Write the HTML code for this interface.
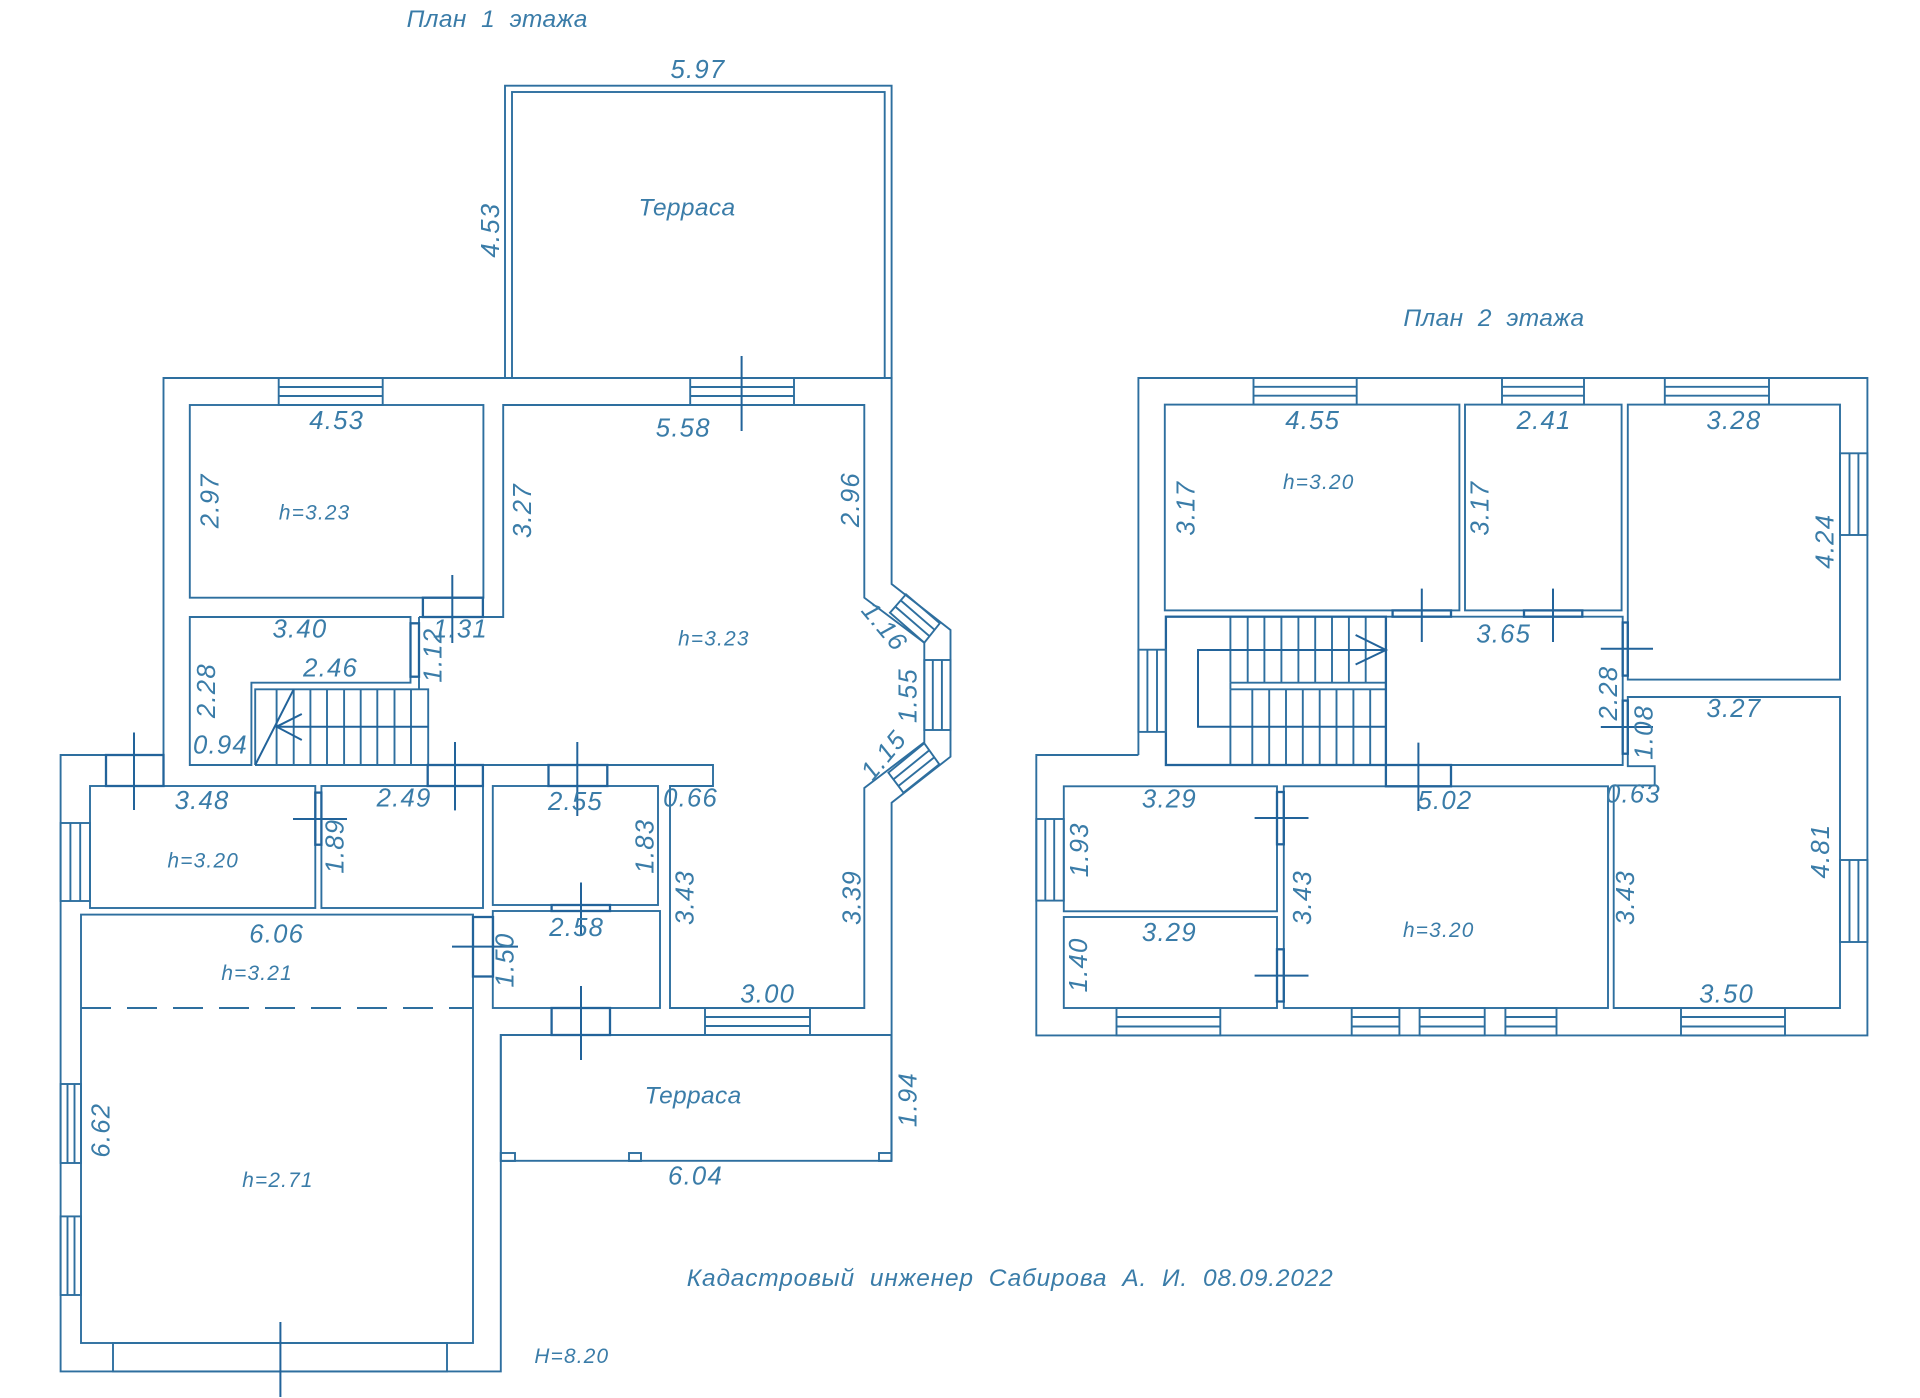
<!DOCTYPE html>
<html lang="ru">
<head>
<meta charset="utf-8">
<title>План этажей</title>
<style>
html,body{margin:0;padding:0;background:#fff}
svg{display:block}
.l{fill:none;stroke:#2e6f9f;stroke-width:1.9}
.d{fill:none;stroke:#22639a;stroke-width:2.3}
.c{fill:none;stroke:#22639a;stroke-width:2}
text{font-family:"Liberation Sans","Noto Sans CJK JP",sans-serif;font-style:italic;fill:#3a7ca8;text-anchor:middle;dominant-baseline:central}
.n{font-size:21px;letter-spacing:1px}
.s{font-size:17px;letter-spacing:1px}
.t{font-size:20px;letter-spacing:.3px}
.k{font-size:20px;letter-spacing:.67px}
</style>
</head>
<body>
<svg xmlns="http://www.w3.org/2000/svg" width="1920" height="1398" viewBox="0 0 1920 1398">
<rect width="1920" height="1398" fill="#fff"/>

<!-- PLAN 1 outer -->
<g class="l">
<path d="M163.5 786V378H891.6V584L950.5 630V756.7L891.6 802.7V1161"/>
<path d="M163.5 755H60.6V1371.4H500.8V1035H891.4"/>
<rect x="505" y="85.7" width="386.6" height="292.3"/>
<rect x="512" y="92" width="372.7" height="286"/>
<rect x="500.8" y="1035" width="390.6" height="125.8"/>
<rect x="500.8" y="1153" width="14.2" height="8"/>
<rect x="629" y="1153" width="12" height="8"/>
<rect x="879" y="1153" width="12.4" height="8"/>
<!-- rooms -->
<rect x="189.8" y="405" width="293.6" height="192.7"/>
<path d="M419 617H503.2V405H864.3V597.7L924.3 642.7V742.3L864.3 788V1008H670V786H713V765H255"/>
<path d="M251.4 765H189.8V617H410.5V682.7H251.4Z"/>
<path d="M419 617V689.3"/>
<rect x="90" y="786" width="225.3" height="122"/>
<rect x="321.4" y="786" width="161.6" height="122"/>
<rect x="492.8" y="786" width="165.2" height="119"/>
<rect x="492.8" y="911" width="167.2" height="97"/>
<rect x="81" y="914.6" width="392" height="428.4"/>
<path d="M81 1008H473" stroke-dasharray="30 16"/>
<!-- stairs -->
<path d="M255.2 765V689.3H428.2V765"/>
<path d="M276.6 689.3V765M293.7 689.3V765M310.4 689.3V765M327 689.3V765M344.1 689.3V765M360.7 689.3V765M377.3 689.3V765M394.5 689.3V765M411 689.3V765"/>
</g>
<g class="c">
<path d="M255.2 765L293.7 689.3"/>
<path d="M276.6 726.7H428.2"/>
<path d="M301.8 714L276.6 726.7L301.8 740"/>
</g>
<!-- windows plan 1 -->
<g class="l">
<rect x="278.7" y="378" width="104" height="27"/><path d="M278.7 387H382.7M278.7 396H382.7"/>
<rect x="690.2" y="378" width="103.8" height="27"/><path d="M690.2 387H794M690.2 396H794"/>
<rect x="924.3" y="660" width="26.2" height="70"/><path d="M932.8 660V730M941.9 660V730"/>
<path d="M906 594.3L939.8 623.3L924.3 642.7L890 612.7Z"/>
<path d="M900.7 600.4L934.6 629.8M895.3 606.6L929.5 636.2"/>
<path d="M924.3 743.3L939.3 764.3L903.4 792.7L888.4 772.7Z"/>
<path d="M929.3 750.3L893.4 779.4M934.3 757.3L898.4 786"/>
<rect x="60.6" y="823" width="29.4" height="78"/><path d="M70.4 823V901M80.2 823V901"/>
<rect x="60.6" y="1084" width="20.4" height="79"/><path d="M67.5 1084V1163M74.5 1084V1163"/>
<rect x="60.6" y="1216.4" width="20.4" height="78.6"/><path d="M67.5 1216.4V1295M74.5 1216.4V1295"/>
<rect x="705" y="1008" width="105" height="27"/><path d="M705 1017H810M705 1026H810"/>
<rect x="113" y="1343" width="334" height="28.4"/>
</g>
<!-- doors plan 1 -->
<g class="d">
<rect x="422.9" y="597.7" width="60" height="19.3"/>
<rect x="410.5" y="623.3" width="8.5" height="53.4"/>
<rect x="427.7" y="765" width="55.2" height="21"/>
<rect x="548.5" y="765" width="58.8" height="21"/>
<rect x="106" y="755" width="57.5" height="31"/>
<rect x="315.3" y="792.6" width="6.1" height="52.1"/>
<rect x="551.6" y="905" width="58.4" height="6"/>
<rect x="473" y="917" width="20" height="59.5"/>
<rect x="551.6" y="1008" width="58.4" height="27"/>
</g>
<g class="c">
<path d="M741.6 356V431"/>
<path d="M452.3 575V643"/>
<path d="M455 742V810.4"/>
<path d="M577.3 742V816"/>
<path d="M134 732.5V810"/>
<path d="M293 819H347"/>
<path d="M581 882.5V936"/>
<path d="M452 946.6H518"/>
<path d="M581 986V1060"/>
<path d="M280.4 1322V1397"/>
</g>

<!-- PLAN 2 -->
<g class="l">
<path d="M1138.4 755V378H1867.4V1035.4H1036.3V755H1138.4"/>
<rect x="1164.8" y="404.6" width="294.6" height="205.8"/>
<rect x="1465" y="404.6" width="156.6" height="205.8"/>
<rect x="1627.8" y="404.6" width="212.2" height="275"/>
<path d="M1627.8 766.2V697H1840V1008H1613.7V785.4H1654.7V766.2Z"/>
<rect x="1283.8" y="786.3" width="324.2" height="221.7"/>
<rect x="1063.8" y="786.3" width="213.2" height="125"/>
<rect x="1063.8" y="917" width="213.2" height="91"/>
<path d="M1385.9 616.7H1622.7V765H1385.9"/>
<!-- stair lines -->
<path d="M1230.4 616.7V682.7M1247.7 616.7V682.7M1264.4 616.7V682.7M1281.4 616.7V682.7M1298.4 616.7V682.7M1315.2 616.7V682.7M1332 616.7V682.7M1348.9 616.7V682.7M1365.7 616.7V682.7"/>
<path d="M1230.4 689.3V765M1252.3 689.3V765M1269.2 689.3V765M1286 689.3V765M1302.8 689.3V765M1319.7 689.3V765M1336.5 689.3V765M1353.4 689.3V765M1370.2 689.3V765"/>
<path d="M1230.4 682.7H1385.9M1230.4 689.3H1385.9M1230.4 682.7V689.3"/>
</g>
<g class="d">
<rect x="1165.9" y="616.7" width="220" height="148.3"/>
<rect x="1392.6" y="610.4" width="58.4" height="6.3"/>
<rect x="1524" y="610.4" width="58.3" height="6.3"/>
<rect x="1622.7" y="622.5" width="5.1" height="53.1"/>
<rect x="1622.7" y="700.6" width="5.1" height="53.1"/>
<rect x="1385.9" y="765" width="65.1" height="21.3"/>
<rect x="1277" y="792" width="6.8" height="52.3"/>
<rect x="1277" y="949.3" width="6.8" height="52.2"/>
</g>
<g class="c">
<path d="M1385.9 650H1198V726.7H1385.9"/>
<path d="M1355.6 635L1385.9 650L1355.6 664.5"/>
<path d="M1421.8 588.6V642"/>
<path d="M1553 588.6V642"/>
<path d="M1600.8 648.8H1653"/>
<path d="M1600.8 727H1653"/>
<path d="M1418.4 742.6V811"/>
<path d="M1254.6 818H1308.5"/>
<path d="M1254.6 975.6H1308.5"/>
</g>
<g class="l">
<rect x="1253.5" y="378" width="103.2" height="26.6"/><path d="M1253.5 386.8H1356.7M1253.5 395.7H1356.7"/>
<rect x="1502" y="378" width="82" height="26.6"/><path d="M1502 386.8H1584M1502 395.7H1584"/>
<rect x="1664.8" y="378" width="104.2" height="26.6"/><path d="M1664.8 386.8H1769M1664.8 395.7H1769"/>
<rect x="1840" y="453.3" width="27.4" height="81.7"/><path d="M1849.5 453.3V535M1858.4 453.3V535"/>
<rect x="1840" y="860" width="27.4" height="82"/><path d="M1849.5 860V942M1858.4 860V942"/>
<rect x="1138.4" y="649.7" width="27.5" height="82.2"/><path d="M1147.4 649.7V731.9M1157 649.7V731.9"/>
<rect x="1036.3" y="819" width="27.5" height="81.6"/><path d="M1045.3 819V900.6M1054.2 819V900.6"/>
<rect x="1116.5" y="1008" width="103.8" height="27.4"/><path d="M1116.5 1017H1220.3M1116.5 1026.5H1220.3"/>
<rect x="1351.7" y="1008" width="47.7" height="27.4"/><path d="M1351.7 1017H1399.4M1351.7 1026.5H1399.4"/>
<rect x="1419.6" y="1008" width="65.1" height="27.4"/><path d="M1419.6 1017H1484.7M1419.6 1026.5H1484.7"/>
<rect x="1505.4" y="1008" width="51.1" height="27.4"/><path d="M1505.4 1017H1556.5M1505.4 1026.5H1556.5"/>
<rect x="1681" y="1008" width="104" height="27.4"/><path d="M1681 1017H1785M1681 1026.5H1785"/>
</g>

<!-- TEXT in 1568-wide coordinates -->
<g transform="scale(1.2245)">
<text class="t" x="406" y="16" style="word-spacing:6px">План 1 этажа</text>
<text class="t" x="1220" y="260" style="word-spacing:6px">План 2 этажа</text>
<text class="t" x="561" y="170">Терраса</text>
<text class="t" x="566" y="895">Терраса</text>
<text class="k" x="825" y="1044" style="word-spacing:6px">Кадастровый инженер Сабирова А. И. 08.09.2022</text>
<text class="s" x="467" y="1108">H=8.20</text>
<text class="s" x="257" y="419">h=3.23</text>
<text class="s" x="583" y="522">h=3.23</text>
<text class="s" x="166" y="703">h=3.20</text>
<text class="s" x="210" y="795">h=3.21</text>
<text class="s" x="227" y="964">h=2.71</text>
<text class="s" x="1077" y="394">h=3.20</text>
<text class="s" x="1175" y="760">h=3.20</text>

<text class="n" x="570" y="57">5.97</text>
<text class="n" x="275" y="344">4.53</text>
<text class="n" x="558" y="350">5.58</text>
<text class="n" x="245" y="514">3.40</text>
<text class="n" x="376" y="514">1.31</text>
<text class="n" x="270" y="546">2.46</text>
<text class="n" x="180" y="609">0.94</text>
<text class="n" x="165" y="654">3.48</text>
<text class="n" x="330" y="652">2.49</text>
<text class="n" x="470" y="655">2.55</text>
<text class="n" x="564" y="652">0.66</text>
<text class="n" x="226" y="763">6.06</text>
<text class="n" x="471" y="758">2.58</text>
<text class="n" x="627" y="812">3.00</text>
<text class="n" x="568" y="961">6.04</text>
<text class="n" x="1072" y="344">4.55</text>
<text class="n" x="1261" y="344">2.41</text>
<text class="n" x="1416" y="344">3.28</text>
<text class="n" x="1228" y="518">3.65</text>
<text class="n" x="1416" y="579">3.27</text>
<text class="n" x="955" y="653">3.29</text>
<text class="n" x="1180" y="654">5.02</text>
<text class="n" x="1334" y="649">0.63</text>
<text class="n" x="955" y="762">3.29</text>
<text class="n" x="1410" y="812">3.50</text>

<text class="n" transform="translate(401 188) rotate(-90)">4.53</text>
<text class="n" transform="translate(172 409) rotate(-90)">2.97</text>
<text class="n" transform="translate(427 417) rotate(-90)">3.27</text>
<text class="n" transform="translate(695 408) rotate(-90)">2.96</text>
<text class="n" transform="translate(354 535) rotate(-90)">1.12</text>
<text class="n" transform="translate(169 564) rotate(-90)">2.28</text>
<text class="n" transform="translate(722 512) rotate(50)">1.16</text>
<text class="n" transform="translate(742 568) rotate(-90)">1.55</text>
<text class="n" transform="translate(722 617) rotate(-50)">1.15</text>
<text class="n" transform="translate(274 691) rotate(-90)">1.89</text>
<text class="n" transform="translate(527 691) rotate(-90)">1.83</text>
<text class="n" transform="translate(560 733) rotate(-90)">3.43</text>
<text class="n" transform="translate(696 733) rotate(-90)">3.39</text>
<text class="n" transform="translate(413 784) rotate(-90)">1.50</text>
<text class="n" transform="translate(742 898) rotate(-90)">1.94</text>
<text class="n" transform="translate(83 923) rotate(-90)">6.62</text>
<text class="n" transform="translate(969 415) rotate(-90)">3.17</text>
<text class="n" transform="translate(1209 415) rotate(-90)">3.17</text>
<text class="n" transform="translate(1491 442) rotate(-90)">4.24</text>
<text class="n" transform="translate(1314 566) rotate(-90)">2.28</text>
<text class="n" transform="translate(1343 598) rotate(-90)">1.08</text>
<text class="n" transform="translate(882 694) rotate(-90)">1.93</text>
<text class="n" transform="translate(1487 695) rotate(-90)">4.81</text>
<text class="n" transform="translate(1064 733) rotate(-90)">3.43</text>
<text class="n" transform="translate(1328 733) rotate(-90)">3.43</text>
<text class="n" transform="translate(881 788) rotate(-90)">1.40</text>
</g>
</svg>
</body>
</html>
